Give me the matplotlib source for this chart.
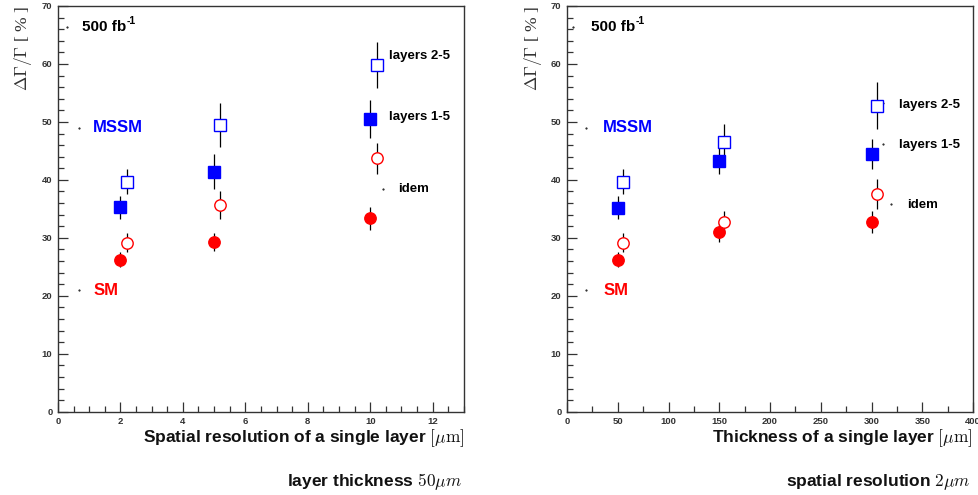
import matplotlib
matplotlib.use("Agg")
import matplotlib.pyplot as plt
from matplotlib.ticker import MultipleLocator

plt.rcParams['mathtext.fontset'] = 'cm'
plt.rcParams['font.family'] = ['Liberation Sans', 'DejaVu Sans']

# ---- Left panel: spatial resolution (um), thickness 50um ----
res_x = [2, 5, 10]
res_x_open = [2.2, 5.2, 10.2]
res_mssm_15 = [35.3, 41.4, 50.5]
res_mssm_15_err = [2.0, 3.0, 3.3]
res_mssm_25 = [39.7, 49.4, 59.8]
res_mssm_25_err = [2.2, 3.8, 4.0]
res_sm_15 = [26.2, 29.3, 33.4]
res_sm_15_err = [1.3, 1.5, 2.0]
res_sm_25 = [29.2, 35.6, 43.7]
res_sm_25_err = [1.6, 2.4, 2.7]

# ---- Right panel: thickness (um), resolution 2um ----
thk_x = [50, 150, 300]
thk_x_open = [55, 155, 305]
thk_mssm_15 = [35.2, 43.3, 44.5]
thk_mssm_15_err = [2.0, 2.2, 2.6]
thk_mssm_25 = [39.7, 46.6, 52.8]
thk_mssm_25_err = [2.2, 3.0, 4.0]
thk_sm_15 = [26.2, 31.0, 32.7]
thk_sm_15_err = [1.3, 1.7, 1.9]
thk_sm_25 = [29.2, 32.7, 37.6]
thk_sm_25_err = [1.6, 2.0, 2.6]

BLUE = '#0000ff'
RED = '#ff0000'
DARK = '#333333'

fig = plt.figure(figsize=(9.79, 4.95), dpi=100)
axL = fig.add_axes([0.0592, 0.168, 0.4147, 0.820])
axR = fig.add_axes([0.5792, 0.168, 0.4147, 0.820])


def draw(ax, x, xo, m15, m15e, m25, m25e, s15, s15e, s25, s25e):
    ekw = dict(ecolor='black', elinewidth=0.9, capsize=0, linestyle='none', zorder=3)
    ax.errorbar(x, m15, yerr=m15e, marker='s', ms=8.2, mfc=BLUE, mec=BLUE, **ekw)
    ax.errorbar(xo, m25, yerr=m25e, marker='s', ms=8.2, mfc='white', mec=BLUE, mew=1.0, **ekw)
    ax.errorbar(x, s15, yerr=s15e, marker='o', ms=8.2, mfc=RED, mec=RED, **ekw)
    ax.errorbar(xo, s25, yerr=s25e, marker='o', ms=8.2, mfc='white', mec=RED, mew=1.0, **ekw)


draw(axL, res_x, res_x_open, res_mssm_15, res_mssm_15_err, res_mssm_25, res_mssm_25_err,
     res_sm_15, res_sm_15_err, res_sm_25, res_sm_25_err)
draw(axR, thk_x, thk_x_open, thk_mssm_15, thk_mssm_15_err, thk_mssm_25, thk_mssm_25_err,
     thk_sm_15, thk_sm_15_err, thk_sm_25, thk_sm_25_err)

for ax, xmax, maj, mnr in [(axL, 13, 2, 0.5), (axR, 400, 50, 25)]:
    ax.set_xlim(0, xmax)
    ax.set_ylim(0, 70)
    ax.xaxis.set_major_locator(MultipleLocator(maj))
    ax.xaxis.set_minor_locator(MultipleLocator(mnr))
    ax.yaxis.set_major_locator(MultipleLocator(10))
    ax.yaxis.set_minor_locator(MultipleLocator(2))
    ax.tick_params(which='both', direction='in', top=False, right=False,
                   color=DARK, width=0.9, labelsize=6.8, labelcolor=DARK)
    ax.tick_params(which='major', length=7, pad=4)
    ax.tick_params(which='minor', length=4)
    for lab in ax.get_xticklabels() + ax.get_yticklabels():
        lab.set_fontweight('bold')
    for sp in ax.spines.values():
        sp.set_color(DARK)
        sp.set_linewidth(1.0)
    ax.text(-0.085, 1.0, r'$\Delta\Gamma/\Gamma$ [ % ]', transform=ax.transAxes,
            rotation=90, ha='center', va='top', fontsize=12.5, color=DARK,
            family=['Liberation Serif', 'DejaVu Serif'])


def lumi(ax, x, y):
    t = ax.text(x, y, '500 fb', fontsize=11, fontweight='bold', va='center')
    ax.annotate('-1', xy=(1.0, 0.95), xycoords=t, ha='left', va='center',
                fontsize=7.5, fontweight='bold')


lumi(axL, 0.77, 66.4)
axL.plot([0.29], [66.3], 'k.', ms=1)
axL.text(1.13, 49, 'MSSM', fontsize=12, fontweight='bold', color=BLUE, va='center')
axL.plot([0.67], [49], 'k.', ms=1)
axL.text(1.13, 21, 'SM', fontsize=12, fontweight='bold', color=RED, va='center')
axL.plot([0.67], [21], 'k.', ms=1)
axL.text(10.6, 61.4, 'layers 2-5', fontsize=9.5, fontweight='bold', va='center')
axL.text(10.6, 50.9, 'layers 1-5', fontsize=9.5, fontweight='bold', va='center')
axL.text(10.9, 38.4, 'idem', fontsize=9.5, fontweight='bold', va='center')
axL.plot([10.4], [38.5], 'k.', ms=1)

lumi(axR, 23.6, 66.4)
axR.plot([6], [66.3], 'k.', ms=1)
axR.text(35.5, 49, 'MSSM', fontsize=12, fontweight='bold', color=BLUE, va='center')
axR.plot([19], [49], 'k.', ms=1)
axR.text(35.5, 21, 'SM', fontsize=12, fontweight='bold', color=RED, va='center')
axR.plot([19], [21], 'k.', ms=1)
axR.text(327, 53.0, 'layers 2-5', fontsize=9.5, fontweight='bold', va='center')
axR.plot([311], [53.2], 'k.', ms=1)
axR.text(327, 46.0, 'layers 1-5', fontsize=9.5, fontweight='bold', va='center')
axR.plot([311], [46.2], 'k.', ms=1)
axR.text(335, 35.7, 'idem', fontsize=9.5, fontweight='bold', va='center')
axR.plot([319], [35.8], 'k.', ms=1)

axL.text(1.0, -0.066, r'Spatial resolution of a single layer $[\mu\mathrm{m}]$',
         transform=axL.transAxes, ha='right', va='center', fontsize=12.5, fontweight='bold', color='#111111')
axR.text(1.0, -0.066, r'Thickness of a single layer $[\mu\mathrm{m}]$',
         transform=axR.transAxes, ha='right', va='center', fontsize=12.5, fontweight='bold', color='#111111')
axL.text(0.995, -0.172, r'layer thickness $50\mu m$', transform=axL.transAxes,
         ha='right', va='center', fontsize=12.5, fontweight='bold', color='#111111')
axR.text(0.995, -0.172, r'spatial resolution $2\mu m$', transform=axR.transAxes,
         ha='right', va='center', fontsize=12.5, fontweight='bold', color='#111111')

fig.savefig('out.png', dpi=100)
